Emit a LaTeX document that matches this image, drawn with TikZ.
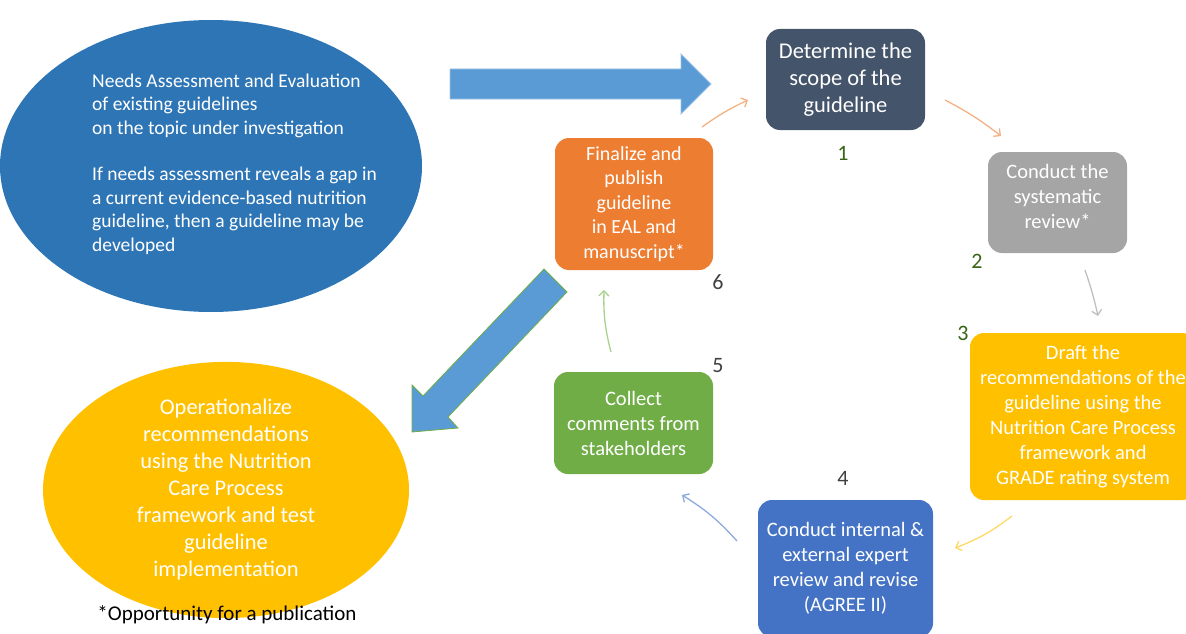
\documentclass[tikz,border=0pt]{standalone}
\usepackage{fontspec}
\setmainfont{Carlito}
\usetikzlibrary{shapes.geometric,arrows.meta}
\definecolor{ellblue}{RGB}{46,117,182}
\definecolor{arrblue}{RGB}{91,155,213}
\definecolor{arrborder}{RGB}{157,195,230}
\definecolor{cslate}{RGB}{68,84,106}
\definecolor{cgray}{RGB}{165,165,165}
\definecolor{cyellow}{RGB}{255,192,0}
\definecolor{cblue}{RGB}{68,114,196}
\definecolor{cgreen}{RGB}{112,173,71}
\definecolor{corange}{RGB}{237,125,49}
\definecolor{numgreen}{RGB}{56,100,20}
\definecolor{numgray}{RGB}{64,64,64}
\definecolor{aorange}{RGB}{244,177,131}
\definecolor{agray}{RGB}{191,191,191}
\definecolor{ayellow}{RGB}{255,217,102}
\definecolor{ablue}{RGB}{143,170,220}
\definecolor{agreen}{RGB}{169,209,142}
\begin{document}
\begin{tikzpicture}[x=1pt,y=-1pt,
  box/.style={rectangle, rounded corners=14pt, inner sep=0pt, text=white, align=center},
  bodytext/.style={font=\fontsize{20.5}{25}\selectfont},
  lab/.style={font=\fontsize{22}{26}\selectfont, inner sep=0pt},
  thinarrow/.style={line width=1.3pt, -{Straight Barb[length=5pt,width=10pt]}},
  bigarrow/.style={fill=arrblue, line width=0.8pt}
]
\useasboundingbox (0,0) rectangle (1186,634);

% big blue ellipse
\node[ellipse, fill=ellblue, minimum width=422pt, minimum height=292pt, inner sep=0pt] (ell) at (211,166) {};
\node[anchor=west, align=left, text=white, inner sep=0pt, font=\fontsize{19.5}{23.4}\selectfont] (elltext) at (92,164)
 {Needs Assessment and Evaluation\\of existing guidelines\\on the topic under investigation\\[23.4pt]If needs assessment reveals a gap in\\a current evidence-based nutrition\\guideline, then a guideline may be\\developed};

% yellow ellipse
\node[ellipse, fill=cyellow, minimum width=366pt, minimum height=230pt, inner sep=0pt, text=white, align=center, font=\fontsize{22.4}{27}\selectfont] (ops) at (226,490)
 {Operationalize\\recommendations\\using the Nutrition\\Care Process\\framework and test\\guideline\\implementation};

\node[inner sep=0pt, font=\fontsize{21}{25}\selectfont] (foot) at (227,615) {*Opportunity for a publication};

% big arrows
\path[bigarrow, draw=arrborder] (450,69) -- (681,69) -- (681,54) -- (711,84) -- (681,114) -- (681,99) -- (450,99) -- cycle;
\path[bigarrow, draw=cgreen] (544,269) -- (423,396) -- (412,385) -- (412,432) -- (458,428) -- (448,417) -- (567,292) -- cycle;

% boxes
\node[box, fill=cslate, minimum width=159pt, minimum height=101pt, font=\fontsize{22.5}{27}\selectfont] (n1) at (845.5,79.5) {Determine the\\scope of the\\guideline};
\node[box, fill=cgray, minimum width=139pt, minimum height=101pt] (n2) at (1057.5,202.5) {};
\node[text=white, align=center, inner sep=0pt, bodytext] (t2) at (1057.5,196) {Conduct the\\systematic\\review*};
\node[box, fill=cyellow, minimum width=226pt, minimum height=167pt, bodytext] (n3) at (1083,416.5) {Draft the\\recommendations of the\\guideline using the\\Nutrition Care Process\\framework and\\GRADE rating system};
\node[box, fill=cblue, minimum width=175pt, minimum height=137pt, bodytext] (n4) at (845.5,568.5) {Conduct internal \&\\external expert\\review and revise\\(AGREE II)};
\node[box, fill=cgreen, minimum width=159pt, minimum height=102pt, bodytext] (n5) at (633.5,423) {Collect\\comments from\\stakeholders};
\node[box, fill=corange, minimum width=158pt, minimum height=132pt, font=\fontsize{20}{24.5}\selectfont] (n6) at (634,204) {Finalize and\\publish\\guideline\\in EAL and\\manuscript*};

% number labels
\node[lab, text=numgreen] (l1) at (843,153) {1};
\node[lab, text=numgreen] (l2) at (977,261) {2};
\node[lab, text=numgreen] (l3) at (963,333) {3};
\node[lab, text=numgray] (l4) at (843,478) {4};
\node[lab, text=numgray] (l5) at (718,366) {5};
\node[lab, text=numgray] (l6) at (718,282) {6};

% thin arrows endpoints
\coordinate (a6s) at (702,127); \coordinate (a6e) at (748,100);
\coordinate (a1s) at (945,100); \coordinate (a1e) at (1001,136);
\coordinate (a2s) at (1085,270); \coordinate (a2e) at (1098,316);
\coordinate (a3s) at (1012,516); \coordinate (a3e) at (955,548);
\coordinate (a4s) at (737,541); \coordinate (a4e) at (682,495);
\coordinate (a5s) at (611,352); \coordinate (a5e) at (604,290);

\draw[thinarrow, aorange] (a6s) to[bend left=5] (a6e);
\draw[thinarrow, aorange] (a1s) to[bend left=5] (a1e);
\draw[thinarrow, agray] (a2s) to[bend left=3] (a2e);
\draw[thinarrow, ayellow] (a3s) to[bend left=8] (a3e);
\draw[thinarrow, ablue] (a4s) to[bend right=8] (a4e);
\draw[thinarrow, agreen] (a5s) to[bend left=8] (a5e);
\end{tikzpicture}
\end{document}
